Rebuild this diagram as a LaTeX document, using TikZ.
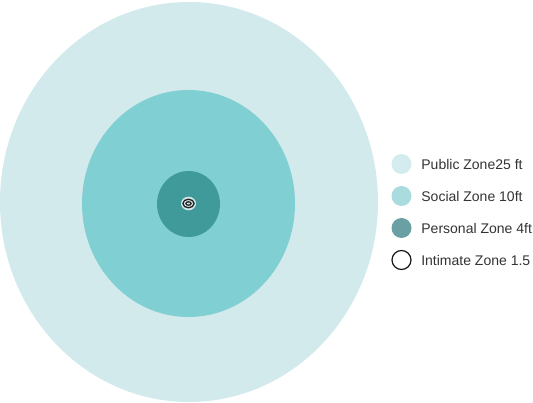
\documentclass[tikz,border=0pt]{standalone}
\usepackage{fontspec}
\setmainfont{Liberation Sans}
\usetikzlibrary{positioning}
\definecolor{publicColor}{HTML}{D3EAEC}
\definecolor{socialColor}{HTML}{80CFD3}
\definecolor{personalColor}{HTML}{409A9A}
\definecolor{intimateColor}{HTML}{D2E7E7}
\definecolor{publicKey}{HTML}{D5ECEE}
\definecolor{socialKey}{HTML}{A9DCDF}
\definecolor{personalKey}{HTML}{6A9FA3}
\definecolor{textColor}{HTML}{333333}
\tikzstyle{zonePlan} = [x = 1pt, y = -1pt]
\tikzstyle{keyDot} = [circle, minimum size = 20pt, inner sep = 0pt]
\tikzstyle{keyText} = [right = 9.5pt of #1, inner sep = 0pt, anchor = west, font = \fontsize{14}{16}\selectfont, text = textColor]
\tikzstyle{ringLine} = [draw = black!85, line width = 1.3pt]
\newcommand{\zoneKey}[4]{\node [keyDot, #3] (#1) at (401.5, #2) {}; \node [keyText = #1] (#1Text) {#4};}

\begin{document}
\begin{tikzpicture}[zonePlan]
  \useasboundingbox (0, 0) rectangle (533, 403);
  % zones
  \fill [publicColor] (189, 202) ellipse [x radius = 189, y radius = 200];
  \fill [socialColor] (188.5, 203.5) ellipse [x radius = 106.5, y radius = 113.5];
  \fill [personalColor] (188.5, 204) ellipse [x radius = 31.5, y radius = 33];
  \fill [intimateColor] (188.5, 203.5) ellipse [x radius = 7.5, y radius = 6.8];
  \draw [ringLine] (188.5, 203.5) ellipse [x radius = 5.6, y radius = 4.3];
  \draw [ringLine] (188.5, 203.5) ellipse [x radius = 2.6, y radius = 1.7];
  % key
  \zoneKey{public}{164}{fill = publicKey}{Public Zone25 ft}
  \zoneKey{social}{196}{fill = socialKey}{Social Zone 10ft}
  \zoneKey{personal}{228}{fill = personalKey}{Personal Zone 4ft}
  \zoneKey{intimate}{260}{draw = black!90, line width = 1.2pt, fill = white, minimum size = 19pt}{Intimate Zone 1.5}
\end{tikzpicture}
\end{document}
